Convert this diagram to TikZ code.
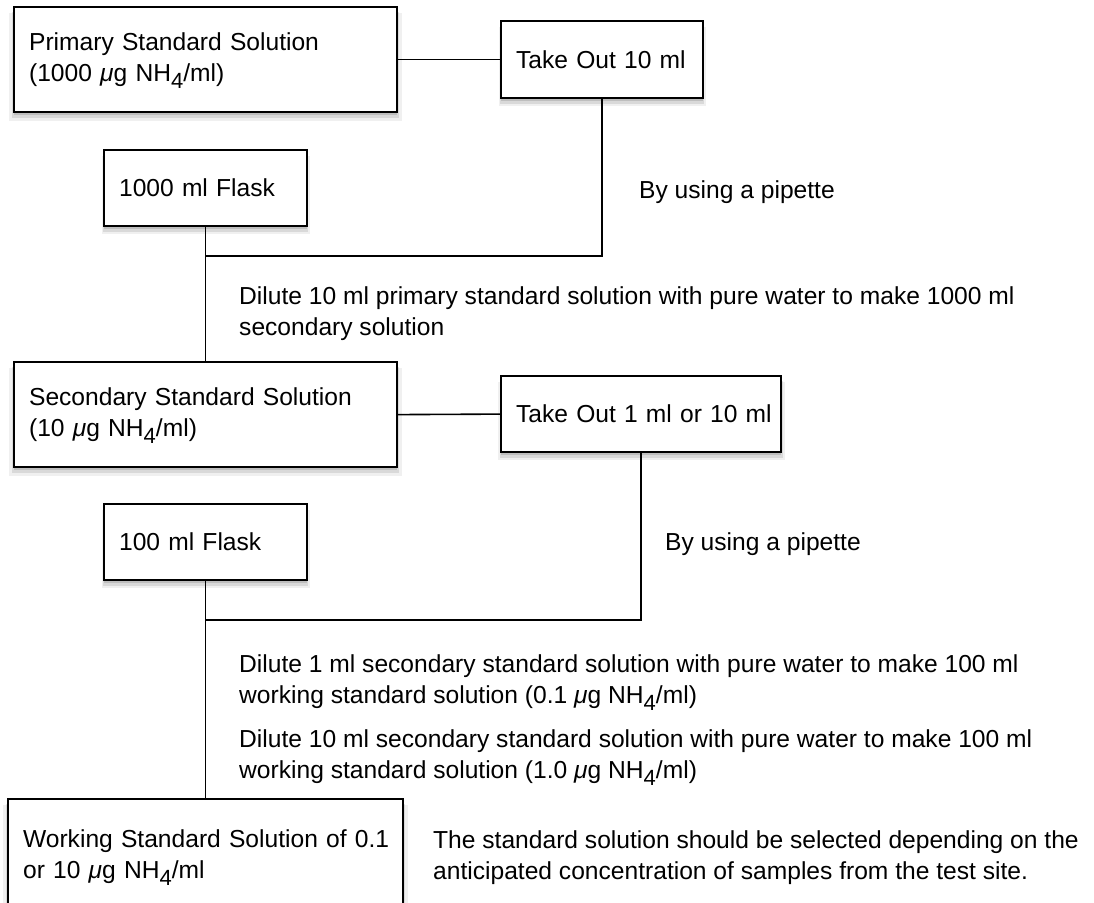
\documentclass[tikz,border=0pt]{standalone}
\usepackage{fontspec}
\setmainfont{Liberation Sans}
\usepackage{tikz}
\usetikzlibrary{shadows}

\newcommand{\nhfour}{NH\raisebox{-7pt}[0pt][0pt]{\fontsize{22}{22}\selectfont 4}}
\newcommand{\ug}{{\itshape μ}g}

\tikzset{
  stepbox/.style={draw, line width=2.2pt, fill=white, anchor=north west, align=left,
    inner xsep=15pt, inner ysep=0pt,
    drop shadow={shadow xshift=0pt, shadow yshift=-7pt, shadow scale=1.025, opacity=.12},
    drop shadow={shadow xshift=0pt, shadow yshift=-5pt, shadow scale=1.01, opacity=.2},
    drop shadow={shadow xshift=0pt, shadow yshift=-3pt, opacity=.3}},
  remark/.style={anchor=base west, align=left, inner sep=0pt},
  link/.style={line width=1.6pt}
}

\begin{document}
\begin{tikzpicture}[x=1pt,y=-1pt,font=\fontsize{24.6}{31}\selectfont]
 \useasboundingbox (0,0) rectangle (1094,902);

 \draw (13,6) node[stepbox,minimum width=383pt,minimum height=105pt,text width=353pt] (prim) {\mbox{Primary Standard Solution}\\\mbox{(1000 \ug\ \nhfour/ml)}};
 \draw (500,20) node[stepbox,minimum width=202pt,minimum height=77pt,text width=172pt] (take1) {\mbox{Take Out 10 ml}};
 \draw (103,149) node[stepbox,minimum width=203pt,minimum height=76pt,text width=173pt] (flask1) {\mbox{1000 ml Flask}};
 \draw (13,361) node[stepbox,minimum width=383pt,minimum height=105pt,text width=353pt] (sec) {\mbox{Secondary Standard Solution}\\\mbox{(10 \ug\ \nhfour/ml)}};
 \draw (500,375) node[stepbox,minimum width=280pt,minimum height=76pt,text width=250pt] (take2) {\mbox{Take Out 1 ml or 10 ml}};
 \draw (103,503) node[stepbox,minimum width=203pt,minimum height=76pt,text width=173pt] (flask2) {\mbox{100 ml Flask}};
 \draw (7,798) node[stepbox,minimum width=395pt,minimum height=115pt,text width=365pt] (work) {\mbox{Working Standard Solution of 0.1}\\\mbox{or 10 \ug\ \nhfour/ml}};

 \draw (639,198) node[remark] (pip1) {By using a pipette};
 \draw (239,335) node[remark] (dil1) {Dilute 10 ml primary standard solution with pure water to make 1000 ml\\secondary solution};
 \draw (665,550) node[remark] (pip2) {By using a pipette};
 \draw (239,703) node[remark] (dil2a) {Dilute 1 ml secondary standard solution with pure water to make 100 ml\\working standard solution (0.1 \ug\ \nhfour/ml)};
 \draw (239,778) node[remark] (dil2b) {Dilute 10 ml secondary standard solution with pure water to make 100 ml\\working standard solution (1.0 \ug\ \nhfour/ml)};
 \draw (433,879) node[remark] (site) {The standard solution should be selected depending on the\\anticipated concentration of samples from the test site.};

 \path (flask1.south) ++(0,29) coordinate (j1);
 \path (flask2.south) ++(0,39) coordinate (j2);

 \draw[link] (prim.east) -- (take1.west);
 \draw[link] (take1.south) |- (j1);
 \draw[link] (flask1.south) -- (sec.north);
 \draw[link] (sec.east) -- (take2.west);
 \draw[link] (take2.south) |- (j2);
 \draw[link] (flask2.south) -- (work.north);
\end{tikzpicture}
\end{document}
